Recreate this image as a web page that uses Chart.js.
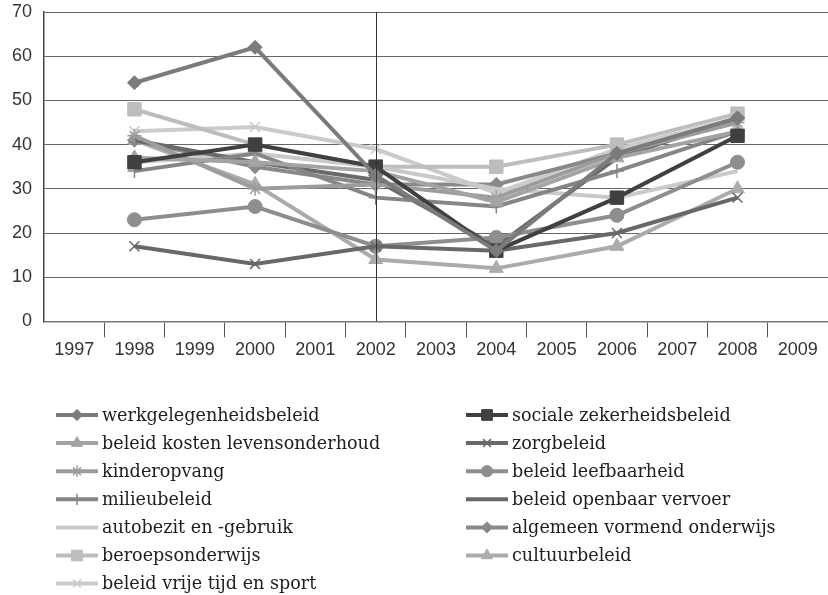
<!DOCTYPE html>
<html>
<head>
<meta charset="utf-8">
<script src="https://cdn.jsdelivr.net/npm/chart.js@4/dist/chart.umd.min.js"></script>
<style>
  html, body { margin: 0; padding: 0; background: #fff; overflow: hidden; }
  #wrap { width: 828px; height: 595px; }
</style>
</head>
<body>
<div id="wrap"><canvas id="myChart"></canvas></div>
<script>
// categories and values (null = no measurement that year)
const years = ["1997", "1998", "1999", "2000", "2001", "2002", "2003", "2004", "2005", "2006", "2007", "2008", "2009"];
const yTicks = [0, 10, 20, 30, 40, 50, 60, 70];
const markerYear = "2002";

const labels = [
  "werkgelegenheidsbeleid",
  "sociale zekerheidsbeleid",
  "beleid kosten levensonderhoud",
  "zorgbeleid",
  "kinderopvang",
  "beleid leefbaarheid",
  "milieubeleid",
  "beleid openbaar vervoer",
  "autobezit en -gebruik",
  "algemeen vormend onderwijs",
  "beroepsonderwijs",
  "cultuurbeleid",
  "beleid vrije tijd en sport",
];

const werkgelegenheid = [null, 54, null, 62, null, 33, null, 16, null, 38, null, 46, null];
const socialeZekerheid = [null, 36, null, 40, null, 35, null, 16, null, 28, null, 42, null];
const kostenLevensonderhoud = [null, 37, null, 36, null, 34, null, 27, null, 37, null, 43, null];
const zorg = [null, 17, null, 13, null, 17, null, 16, null, 20, null, 28, null];
const kinderopvang = [null, 42, null, 30, null, 31, null, 28, null, 38, null, 45, null];
const leefbaarheid = [null, 23, null, 26, null, 17, null, 19, null, 24, null, 36, null];
const milieu = [null, 34, null, 38, null, 28, null, 26, null, 34, null, 43, null];
const openbaarVervoer = [null, 41, null, 36, null, 32, null, 17, null, 37, null, 46, null];
const autobezit = [null, 36, null, 38, null, 35, null, 30, null, 28, null, 34, null];
const algemeenOnderwijs = [null, 41, null, 35, null, 31, null, 31, null, 38, null, 46, null];
const beroepsonderwijs = [null, 48, null, 40, null, 35, null, 35, null, 40, null, 47, null];
const cultuur = [null, 41, null, 31, null, 14, null, 12, null, 17, null, 30, null];
const vrijeTijd = [null, 43, null, 44, null, 39, null, 29, null, 39, null, 46, null];

const values = [
  werkgelegenheid, socialeZekerheid, kostenLevensonderhoud, zorg, kinderopvang,
  leefbaarheid, milieu, openbaarVervoer, autobezit, algemeenOnderwijs,
  beroepsonderwijs, cultuur, vrijeTijd,
];

// styles per series
const colors = ["#7b7b7b", "#404040", "#a3a3a3", "#686868", "#9c9c9c", "#8e8e8e", "#858585",
                "#6a6a6a", "#c9c9c9", "#898989", "#bdbdbd", "#ababab", "#cbcbcb"];
const markers = ["rectRot", "rect", "triangle", "crossRot", "star", "circle", "cross",
                 false, false, "rectRot", "rect", "triangle", "crossRot"];
const radii = [7, 9.5, 8, 7, 7, 7, 7, 0, 0, 7, 9.5, 8, 7];

const datasets = labels.map((label, i) => ({
  label: label,
  data: values[i],
  borderColor: colors[i],
  backgroundColor: colors[i],
  borderWidth: 4,
  pointStyle: markers[i],
  pointRadius: radii[i],
  pointHoverRadius: radii[i],
  pointBorderWidth: ["crossRot", "star", "cross"].includes(markers[i]) ? 1.5 : 1,
  pointBackgroundColor: colors[i],
  pointBorderColor: colors[i],
  spanGaps: true,
  tension: 0,
}));

// vertical line at 2002
const yearLine = {
  id: "yearLine",
  afterDatasetsDraw(chart) {
    const { ctx, chartArea } = chart;
    const x = chart.scales.x.getPixelForValue(years.indexOf(markerYear));
    ctx.save();
    ctx.strokeStyle = "#333";
    ctx.lineWidth = 1;
    ctx.beginPath();
    ctx.moveTo(Math.round(x) + 0.5, chartArea.top);
    ctx.lineTo(Math.round(x) + 0.5, chartArea.bottom);
    ctx.stroke();
    ctx.restore();
  },
};

// two column legend under the chart
const twoColLegend = {
  id: "twoColLegend",
  afterDraw(chart) {
    const ctx = chart.ctx;
    const drawPoint = Chart.helpers && Chart.helpers.drawPoint;
    chart.data.datasets.forEach((ds, i) => {
      const col = i % 2;
      const row = Math.floor(i / 2);
      const x0 = col ? 466 : 56;
      const y = 415 + row * 28.1;
      ctx.save();
      ctx.strokeStyle = ds.borderColor;
      ctx.lineWidth = 4;
      ctx.beginPath();
      ctx.moveTo(x0, y);
      ctx.lineTo(x0 + 42, y);
      ctx.stroke();
      if (ds.pointStyle && drawPoint) {
        ctx.fillStyle = ds.pointBackgroundColor;
        ctx.strokeStyle = ds.pointBorderColor;
        ctx.lineWidth = ds.pointBorderWidth;
        drawPoint(ctx, { pointStyle: ds.pointStyle, rotation: 0, radius: ds.pointRadius * 0.8, borderWidth: ds.pointBorderWidth }, x0 + 21, y);
      }
      ctx.fillStyle = "#1e1e1e";
      ctx.font = "17.6px 'DejaVu Serif'";
      ctx.textBaseline = "middle";
      ctx.textAlign = "left";
      ctx.fillText(ds.label, x0 + 46, y + 1);
      ctx.restore();
    });
  },
};

new Chart(document.getElementById("myChart"), {
  type: "line",
  data: { labels: years, datasets: datasets },
  plugins: [yearLine, twoColLegend],
  options: {
    responsive: true,
    maintainAspectRatio: false,
    animation: false,
    layout: { autoPadding: false, padding: { top: 12, right: 0, bottom: 232, left: 0 } },
    plugins: { legend: { display: false }, tooltip: { enabled: false } },
    scales: {
      x: {
        offset: true,
        afterFit: (scale) => { scale.paddingLeft = 0; scale.paddingRight = 0; },
        grid: {
          offset: true,
          drawOnChartArea: false,
          tickLength: 16,
          tickColor: (c) => (c.index === 0 ? "rgba(0,0,0,0)" : "#555"),
        },
        border: { color: "#777", width: 1.5 },
        ticks: { color: "#333", font: { family: "'Liberation Sans'", size: 18 }, padding: 2, maxRotation: 0, autoSkip: false },
      },
      y: {
        min: 0,
        max: 70,
        afterFit: (scale) => { scale.width = 44; scale.paddingTop = 0; scale.paddingBottom = 0; },
        afterBuildTicks: (scale) => { scale.ticks = yTicks.map((v) => ({ value: v })); },
        grid: { color: "#666", lineWidth: 1, drawTicks: false },
        border: { color: "#444", width: 1.5 },
        ticks: { color: "#333", font: { family: "'Liberation Sans'", size: 18 }, padding: 12 },
      },
    },
  },
});
</script>
</body>
</html>
